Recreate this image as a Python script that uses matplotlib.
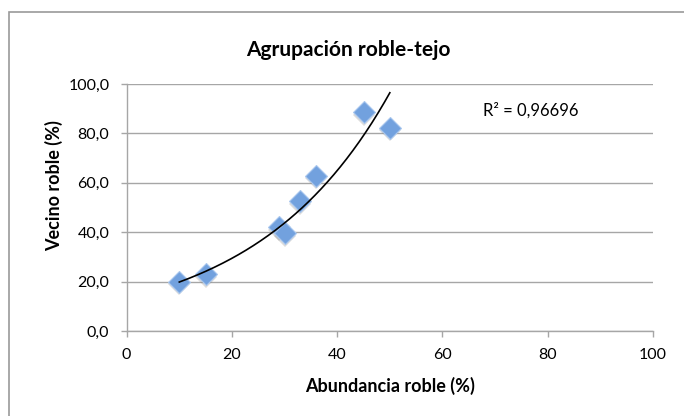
import matplotlib
matplotlib.use('Agg')
import matplotlib.pyplot as plt
from matplotlib.patches import Rectangle
import numpy as np

plt.rcParams['font.family'] = ['Lato', 'DejaVu Sans']

# data
abundancia = [10, 15, 29, 30, 33, 36, 45, 50]
vecino = [20.0, 23.0, 42.0, 39.6, 52.5, 62.8, 88.5, 82.3]
r2_text = 'R² = 0,96696'
x_ticks = [0, 20, 40, 60, 80, 100]
y_ticks = [0, 20, 40, 60, 80, 100]

grid_col = '#A6A6A6'
marker_col = '#72A1DE'

fig = plt.figure(figsize=(6.84, 4.16), dpi=100)
ax = fig.add_axes([0.1852, 0.2043, 0.7695, 0.5937])

# chart area frame (cropped on the right and bottom in the reference)
fig.patches.append(Rectangle((8.5 / 684, -0.1), 1.2, 1 - 12.5 / 416 + 0.1,
                             transform=fig.transFigure, fill=False,
                             edgecolor='#9A9A9A', linewidth=1.2))

# exponential trendline, fitted like Excel (linear fit on log y)
b, ln_a = np.polyfit(abundancia, np.log(vecino), 1)
xs = np.linspace(min(abundancia), max(abundancia), 200)
ax.plot(xs, np.exp(ln_a + b * xs), color='black', linewidth=1.2, zorder=3)

# soft shadow under the markers, then the markers
ax.plot(abundancia, np.array(vecino) - 1.0, 'D', linestyle='none',
        markersize=11.5, color='#777777', alpha=0.25, markeredgewidth=0, zorder=2)
ax.plot(abundancia, vecino, 'D', linestyle='none', markersize=11,
        markerfacecolor=marker_col, markeredgecolor='#A9C7EE',
        markeredgewidth=0.8, zorder=2.5)

ax.set_xlim(0, 100)
ax.set_ylim(0, 100)
ax.set_xticks(x_ticks)
ax.set_yticks(y_ticks)
ax.set_yticklabels([f'{v:.1f}'.replace('.', ',') for v in y_ticks])
ax.tick_params(axis='both', labelsize=11.5, length=4.5, width=1,
               color=grid_col, pad=8)
ax.yaxis.grid(True, color=grid_col, linewidth=1)
ax.set_axisbelow(True)
for s in ['top', 'right']:
    ax.spines[s].set_visible(False)
for s in ['left', 'bottom']:
    ax.spines[s].set_color(grid_col)
    ax.spines[s].set_linewidth(1)

ax.set_xlabel('Abundancia roble (%)', fontsize=13, fontweight='bold')
ax.xaxis.set_label_coords(0.5, -0.185)
ax.set_ylabel('Vecino roble (%)', fontsize=13, fontweight='bold')
ax.yaxis.set_label_coords(-0.12, 0.59)
fig.text(0.51, 0.88, 'Agrupación roble-tejo', ha='center', va='center',
         fontsize=15, fontweight='bold')
ax.text(0.677, 0.893, r2_text, transform=ax.transAxes, ha='left',
        va='center', fontsize=12)

fig.savefig('out.png', dpi=100)
